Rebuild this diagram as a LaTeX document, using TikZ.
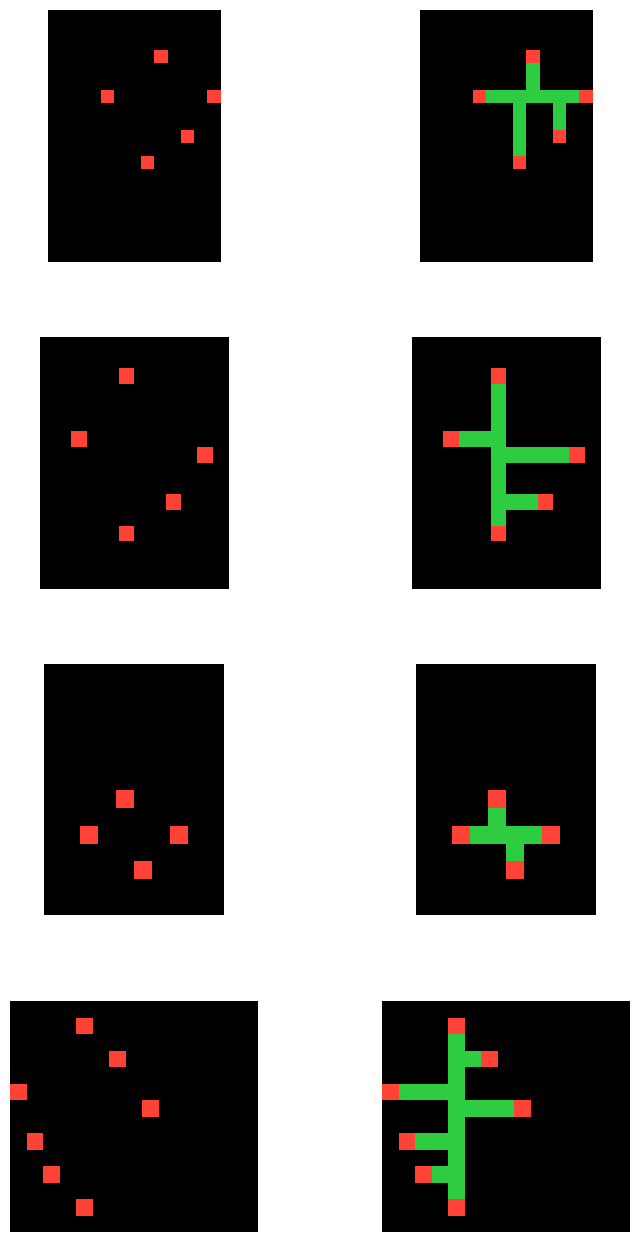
\documentclass[tikz,border=0pt]{standalone}
\usepackage{tikz}
\definecolor{arcred}{HTML}{FF4136}
\definecolor{arcgreen}{HTML}{2ECC40}
\tikzset{
  boardbg/.style   = {fill=black},
  redcell/.style   = {fill=arcred},
  greencell/.style = {fill=arcgreen},
  boardat/.style n args = {3}{shift={(#1,#2)}, x=#3, y=-#3}
}
% red cells of each task, as col/row
\def\redsA{8/3,4/6,12/6,10/9,7/11}
\def\redsB{5/2,2/6,10/7,8/10,5/12}
\def\redsC{4/7,2/9,7/9,5/11}
\def\redsD{4/1,6/3,0/5,8/6,1/8,2/10,4/12}
% green runs, as corner/corner
\def\runsA{8/4/9/6,5/6/12/7,7/7/8/11,10/7/11/9}
\def\runsB{5/3/6/12,3/6/5/7,6/7/10/8,6/10/8/11}
\def\runsC{4/8/5/9,3/9/7/10,5/10/6/11}
\def\runsD{4/2/5/12,5/3/6/4,1/5/4/6,5/6/8/7,2/8/4/9,3/10/4/11}
\begin{document}
\begin{tikzpicture}[x=1pt,y=-1pt]
  \useasboundingbox (0,0) rectangle (639,1242);
  % task 1
  \begin{scope}[boardat={48}{10}{13.28pt}]
    \fill[boardbg] (0,0) rectangle (13,19);
    \foreach \c/\r in \redsA { \fill[redcell] (\c,\r) rectangle ++(1,1); }
  \end{scope}
  \begin{scope}[boardat={420}{10}{13.28pt}]
    \fill[boardbg] (0,0) rectangle (13,19);
    \foreach \a/\b/\c/\d in \runsA { \fill[greencell] (\a,\b) rectangle (\c,\d); }
    \foreach \c/\r in \redsA { \fill[redcell] (\c,\r) rectangle ++(1,1); }
  \end{scope}
  % task 2
  \begin{scope}[boardat={40}{337}{15.72pt}]
    \fill[boardbg] (0,0) rectangle (12,16);
    \foreach \c/\r in \redsB { \fill[redcell] (\c,\r) rectangle ++(1,1); }
  \end{scope}
  \begin{scope}[boardat={412}{337}{15.72pt}]
    \fill[boardbg] (0,0) rectangle (12,16);
    \foreach \a/\b/\c/\d in \runsB { \fill[greencell] (\a,\b) rectangle (\c,\d); }
    \foreach \c/\r in \redsB { \fill[redcell] (\c,\r) rectangle ++(1,1); }
  \end{scope}
  % task 3
  \begin{scope}[boardat={44}{664}{17.95pt}]
    \fill[boardbg] (0,0) rectangle (10,14);
    \foreach \c/\r in \redsC { \fill[redcell] (\c,\r) rectangle ++(1,1); }
  \end{scope}
  \begin{scope}[boardat={416}{664}{17.95pt}]
    \fill[boardbg] (0,0) rectangle (10,14);
    \foreach \a/\b/\c/\d in \runsC { \fill[greencell] (\a,\b) rectangle (\c,\d); }
    \foreach \c/\r in \redsC { \fill[redcell] (\c,\r) rectangle ++(1,1); }
  \end{scope}
  % task 4
  \begin{scope}[boardat={10}{1001}{16.53pt}]
    \fill[boardbg] (0,0) rectangle (15,14);
    \foreach \c/\r in \redsD { \fill[redcell] (\c,\r) rectangle ++(1,1); }
  \end{scope}
  \begin{scope}[boardat={382}{1001}{16.53pt}]
    \fill[boardbg] (0,0) rectangle (15,14);
    \foreach \a/\b/\c/\d in \runsD { \fill[greencell] (\a,\b) rectangle (\c,\d); }
    \foreach \c/\r in \redsD { \fill[redcell] (\c,\r) rectangle ++(1,1); }
  \end{scope}
\end{tikzpicture}
\end{document}
